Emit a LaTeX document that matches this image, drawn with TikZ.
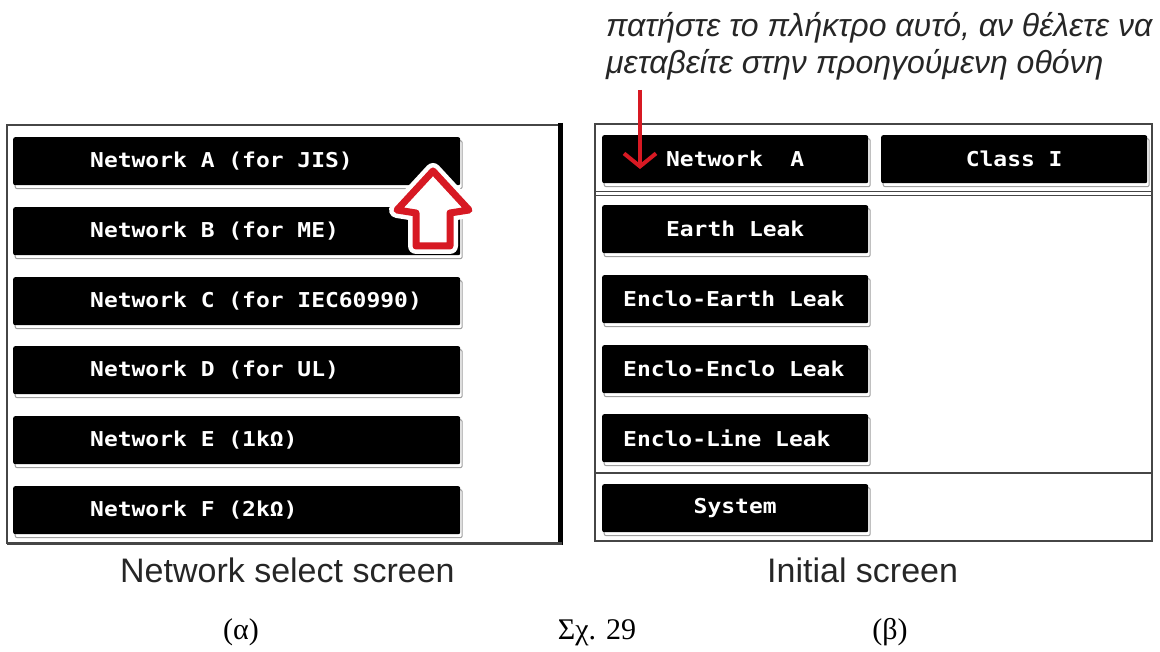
\documentclass[tikz,border=0pt]{standalone}
\usepackage{fontspec}
\setmainfont{Liberation Sans}
\newfontfamily\btnfont{DejaVu Sans Mono}[FakeStretch=1.12]
\newfontfamily\timesfont{Liberation Serif}
\newcommand\btnsel{\btnfont\bfseries\fontsize{20.5}{24}\selectfont}
\newcommand\btnsp{\kern13.8pt\relax}
\usetikzlibrary{shadows,arrows.meta}
\definecolor{redarr}{RGB}{215,25,35}
\definecolor{brd}{RGB}{70,70,70}
\begin{document}
\begin{tikzpicture}[x=1pt,y=-1pt,
  btn/.style={fill=black, rounded corners=2pt, anchor=north west, inner ysep=0pt,
    minimum height=48pt, text=white, font=\btnsel,
    drop shadow={shadow xshift=2pt, shadow yshift=-3.5pt, fill=white, draw=gray!75, line width=1pt, opacity=1}},
  lbtn/.style={btn, inner xsep=38pt, text width=371pt, align=left},
  rbtnc/.style={btn, inner xsep=3pt, text width=260pt, align=center},
  rbtnl/.style={btn, inner xsep=21pt, text width=224pt, align=left},
  panel/.style={draw=brd, line width=1.5pt},
  captext/.style={font=\fontsize{34}{40}\selectfont, text=black!85, inner sep=0pt, anchor=base west},
  note/.style={font=\itshape\fontsize{32}{36}\selectfont, text=black!85, inner sep=0pt, anchor=base west},
  fig/.style={font=\timesfont\fontsize{30}{34}\selectfont, inner sep=0pt, anchor=base}
]
\useasboundingbox (0,0) rectangle (1160,652);

% ---------- left panel ----------
\draw[panel] (7,125) rectangle (560,543);
\draw[line width=5pt, black] (560,123) -- (560,545);
\draw[line width=3pt, brd] (7,543) -- (562,543);

\node[lbtn] (na) at (13,137) {\hspace*{39pt}Network\btnsp A\btnsp (for\btnsp JIS)};
\node[lbtn] (nb) at (13,207) {\hspace*{39pt}Network\btnsp B\btnsp (for\btnsp ME)};
\node[lbtn] (nc) at (13,277) {\hspace*{39pt}Network\btnsp C\btnsp (for\btnsp IEC60990)};
\node[lbtn] (nd) at (13,346) {\hspace*{39pt}Network\btnsp D\btnsp (for\btnsp UL)};
\node[lbtn] (ne) at (13,416) {\hspace*{39pt}Network\btnsp E\btnsp (1k\char"03A9)};
\node[lbtn] (nf) at (13,486) {\hspace*{39pt}Network\btnsp F\btnsp (2k\char"03A9)};

% big outline arrow
\path[draw=white, line width=16pt, line join=round, fill=white]
  (433,171) -- (397,210) -- (416,213) -- (416,246) -- (450,246) -- (450,213) -- (469,210) -- cycle;
\path[draw=redarr, line width=7pt, line join=round, fill=white]
  (433,171) -- (397,210) -- (416,213) -- (416,246) -- (450,246) -- (450,213) -- (469,210) -- cycle;

% ---------- right panel ----------
\draw[panel] (595,124) rectangle (1152,541);
\draw[line width=2.5pt, brd] (595,541) -- (1153,541);
\draw[brd, line width=1pt] (595,192) -- (1152,192);
\draw[brd, line width=1pt] (595,196) -- (1152,196);
\draw[brd, line width=1.2pt] (595,473) -- (1152,473);

\node[rbtnc] (rna) at (602,135) {Network\btnsp\btnsp A};
\node[rbtnc] (rcl) at (881,135) {Class\btnsp I};
\node[rbtnc] (rel) at (602,205) {Earth\btnsp Leak};
\node[rbtnl] (ree) at (602,275) {Enclo-Earth\btnsp Leak};
\node[rbtnl] (rnn) at (602,345) {Enclo-Enclo\btnsp Leak};
\node[rbtnl] (rli) at (602,414) {Enclo-Line\btnsp Leak};
\node[rbtnc] (rsy) at (602,484) {System};

% note and small arrow
\node[note] (n1) at (606,37) {πατήστε το πλήκτρο αυτό, αν θέλετε να};
\node[note] (n2) at (606,74) {μεταβείτε στην προηγούμενη οθόνη};
\coordinate (as) at (640,90);
\coordinate (ae) at (640,169);
\draw[redarr, line width=4pt, -{Straight Barb[length=13pt, width=32pt]}] (as) -- (ae);

% ---------- captions ----------
\node[captext] (c1) at (120,582) {Network select screen};
\node[captext] (c2) at (767,582) {Initial screen};
\node[fig] (fa) at (241,639) {(α)};
\node[fig] (fs) at (597,639) {Σχ. 29};
\node[fig] (fb) at (890,639) {(β)};
\end{tikzpicture}
\end{document}
